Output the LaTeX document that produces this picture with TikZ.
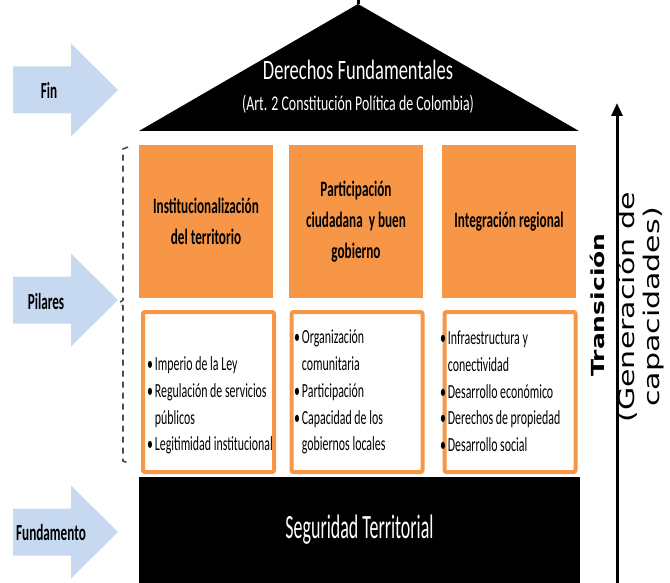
\documentclass[tikz,border=0pt]{standalone}
\usepackage{graphicx}
\usepackage{fontspec}
\setmainfont{Carlito}[FakeStretch=0.66]
\newfontfamily\titlefont{Carlito}[FakeStretch=0.6]
\newfontfamily\sidefont{DejaVu Sans}
\usetikzlibrary{arrows.meta}
\definecolor{pilarorange}{RGB}{247,150,70}
\definecolor{arrowblue}{RGB}{198,217,241}
\tikzset{
  titlebox/.style={fill=pilarorange,minimum width=134pt,minimum height=153pt,
    align=center,font=\titlefont\bfseries\fontsize{22}{31}\selectfont},
  listbox/.style={draw=pilarorange,line width=4pt,rounded corners=2pt,fill=white,
    minimum width=131pt,minimum height=160pt},
  lbl/.style={font=\bfseries\fontsize{23}{26}\selectfont},
  lst/.style={anchor=base west,inner sep=0pt,font=\fontsize{20}{27}\selectfont}
}

\begin{document}
\begin{tikzpicture}[x=1pt,y=-1pt]
\useasboundingbox (0,0) rectangle (670,583);
% flechas de la izquierda
\foreach \yc in {90,300,532}
  \fill[arrowblue] (13,{\yc-23.5}) -- (71,{\yc-23.5}) -- (71,{\yc-46.5}) -- (118,\yc)
    -- (71,{\yc+46.5}) -- (71,{\yc+23.5}) -- (13,{\yc+23.5}) -- cycle;
\node[lbl] (fin) at (49,90) {\scalebox{0.87}[1]{Fin}};
\node[lbl] (pilares) at (46,302) {\scalebox{0.87}[1]{Pilares}};
\node[lbl] (fundamento) at (51,533) {\scalebox{0.87}[1]{Fundamento}};
% techo
\coordinate (L) at (139,131);
\coordinate (T) at (358,4);
\coordinate (R) at (579,131);
\fill (L) -- (T) -- (R) -- cycle;
\draw [line width=3pt] (358,0) -- (T);
\node[anchor=base,text=white,font=\fontsize{28}{32}\selectfont] (derechos) at (358,80) {Derechos Fundamentales};
\node[anchor=base,text=white,font=\fontsize{21}{24}\selectfont] (art) at (358,111) {(Art. 2 Constitución Política de Colombia)};
% pilares
\node[titlebox] (inst) at (206,221.5) {Institucionalización\\del territorio};
\node[titlebox] (part) at (356,221.5) {Participación\\ciudadana \ y buen\\gobierno};
\node[titlebox] (integ) at (509,221.5) {Integración regional};
\node[listbox] (inst list) at (208.5,392) {};
\node[listbox] (part list) at (357,392) {};
\node[listbox] (integ list) at (510,392) {};
\node[lst] (inst items) at (147,370) {\scalebox{0.9}[1]{\begin{tabular}[t]{@{}l@{\hspace{2pt}}l@{}}
  \textbullet & Imperio de la Ley\\
  \textbullet & Regulación de servicios\\
   & públicos\\
  \textbullet & Legitimidad institucional
\end{tabular}}};
\node[lst] (part items) at (294,343) {\scalebox{0.9}[1]{\begin{tabular}[t]{@{}l@{\hspace{2pt}}l@{}}
  \textbullet & Organización\\
   & comunitaria\\
  \textbullet & Participación\\
  \textbullet & Capacidad de los\\
   & gobiernos locales
\end{tabular}}};
\node[lst] (integ items) at (440,344) {\scalebox{0.9}[1]{\begin{tabular}[t]{@{}l@{\hspace{2pt}}l@{}}
  \textbullet & Infraestructura y\\
   & conectividad\\
  \textbullet & Desarrollo económico\\
  \textbullet & Derechos de propiedad\\
  \textbullet & Desarrollo social
\end{tabular}}};
% llave punteada
\draw [black!70,line width=1.6pt,dash pattern=on 6pt off 5pt]
  (128,147) -- (123,149) -- (123,300) -- (119,303) -- (123,306) -- (123,461) -- (128,463);
% fundamento
\node[fill=black,minimum width=441pt,minimum height=106pt,inner sep=0pt,
  text=white,font=\fontsize{34}{38}\selectfont] (seguridad) at (359.5,530) {\scalebox{0.8}[1]{Seguridad Territorial}};
% transicion
\coordinate (tbot) at (617,583);
\coordinate (ttop) at (617,103);
\draw [line width=3pt,-{Triangle[length=13pt,width=11pt]}] (tbot) -- (ttop);
\node[rotate=90,font=\sidefont\bfseries\fontsize{25}{30}\selectfont] (trans) at (597,305)
  {\scalebox{1}[0.72]{Transición}};
\node[rotate=90,font=\sidefont\fontsize{30}{35}\selectfont] (gen) at (642,307)
  {\scalebox{1}[0.72]{\begin{tabular}{@{}c@{}}(Generación de\\capacidades)\end{tabular}}};
\end{tikzpicture}
\end{document}
